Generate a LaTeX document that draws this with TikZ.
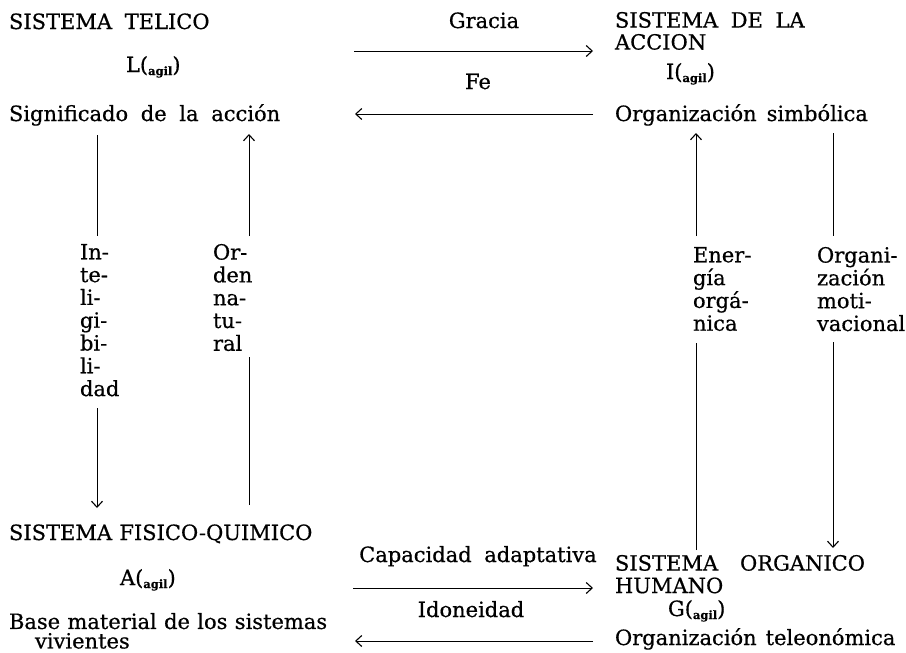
\documentclass[tikz,border=0pt]{standalone}
\usepackage{fontspec}
\setmainfont[WordSpace=1.9,FakeBold=0.6]{DejaVu Serif}
\newfontfamily\narrowsp[WordSpace=1.1,FakeBold=0.6]{DejaVu Serif}
\usetikzlibrary{arrows.meta}
\tikzset{
  txt/.style={inner sep=0pt, outer sep=0pt, anchor=base west, font=\fontsize{21}{23}\selectfont},
  ctxt/.style={inner sep=0pt, outer sep=0pt, anchor=base, font=\fontsize{21}{23}\selectfont},
  mtxt/.style={inner sep=0pt, outer sep=0pt, anchor=north west, align=left},
  vlab/.style={inner sep=0pt, outer sep=0pt, anchor=north west, align=left, font=\fontsize{21}{22.8}\selectfont},
  conn/.style={line width=1pt},
  arr/.style={conn, -{Straight Barb[length=6pt,width=11pt,line width=1.1pt]}},
}
\newcommand{\agil}[1]{#1(\raisebox{-3pt}{\fontsize{11.5}{11.5}\selectfont\bfseries agil})}
\begin{document}
\begin{tikzpicture}[x=1pt,y=-1pt]
\useasboundingbox (0,0) rectangle (906,653);
% top left
\node[txt] (telico) at (9,29) {SISTEMA TELICO};
\node[txt] (L) at (126,72) {\agil{L}};
\node[txt] (signif) at (9,121) {Significado de la acción};
% top right
\node[mtxt, font=\fontsize{21}{22}\selectfont] (accion) at (615,12) {SISTEMA DE LA\\ACCION};
\node[txt] (I) at (666,79) {\agil{I}};
\node[txt, font=\narrowsp\fontsize{21}{23}\selectfont] (simb) at (615,121) {Organización\hspace{10pt}simbólica};
% top arrows
\node[ctxt] (gracia) at (484,28) {Gracia};
\node[ctxt] (fe) at (478,89) {Fe};
\coordinate (g1) at (354,51); \coordinate (g2) at (593,51);
\coordinate (f1) at (593,114); \coordinate (f2) at (355,114);
\draw[arr] (g1) -- (g2);
\draw[arr] (f1) -- (f2);
% bottom left
\node[txt, font=\narrowsp\fontsize{21}{23}\selectfont] (fisico) at (9,540) {SISTEMA FISICO-QUIMICO};
\node[txt] (A) at (120,585) {\agil{A}};
\node[mtxt, font=\narrowsp\fontsize{21}{19.5}\selectfont] (base) at (9,613) {Base material de los sistemas\\\hspace*{26pt}vivientes};
% bottom right
\node[mtxt, font=\fontsize{21}{22.5}\selectfont] (organico) at (615,555) {SISTEMA\hspace{22pt}ORGANICO\\HUMANO};
\node[txt] (G) at (668,616) {\agil{G}};
\node[txt, font=\narrowsp\fontsize{21}{23}\selectfont] (teleo) at (615,645) {Organización\hspace{9pt}teleonómica};
% bottom arrows
\node[ctxt] (capac) at (478,562) {Capacidad adaptativa};
\node[ctxt] (idon) at (471,617) {Idoneidad};
\coordinate (c1) at (353,588); \coordinate (c2) at (593,588);
\coordinate (i1) at (593,641); \coordinate (i2) at (355,641);
\draw[arr] (c1) -- (c2);
\draw[arr] (i1) -- (i2);
% left verticals
\node[vlab] (intel) at (80,244) {In-\\te-\\li-\\gi-\\bi-\\li-\\dad};
\node[vlab] (orden) at (213,244) {Or-\\den\\na-\\tu-\\ral};
\coordinate (a1) at (97,135); \coordinate (a2) at (97,236);
\coordinate (a3) at (97,408); \coordinate (a4) at (97,508);
\draw[conn] (a1) -- (a2);
\draw[arr] (a3) -- (a4);
\coordinate (b1) at (249,505); \coordinate (b2) at (249,357);
\coordinate (b3) at (249,236); \coordinate (b4) at (249,134);
\draw[conn] (b1) -- (b2);
\draw[arr] (b3) -- (b4);
% right verticals
\node[vlab] (energia) at (693,247) {Ener-\\gía\\orgá-\\nica};
\node[vlab] (motiv) at (817,247) {Organi-\\zación\\moti-\\vacional};
\coordinate (e1) at (696,550); \coordinate (e2) at (696,343);
\coordinate (e3) at (696,236); \coordinate (e4) at (696,133);
\draw[conn] (e1) -- (e2);
\draw[arr] (e3) -- (e4);
\coordinate (m1) at (833,133); \coordinate (m2) at (833,236);
\coordinate (m3) at (833,342); \coordinate (m4) at (833,548);
\draw[conn] (m1) -- (m2);
\draw[arr] (m3) -- (m4);
\end{tikzpicture}
\end{document}
